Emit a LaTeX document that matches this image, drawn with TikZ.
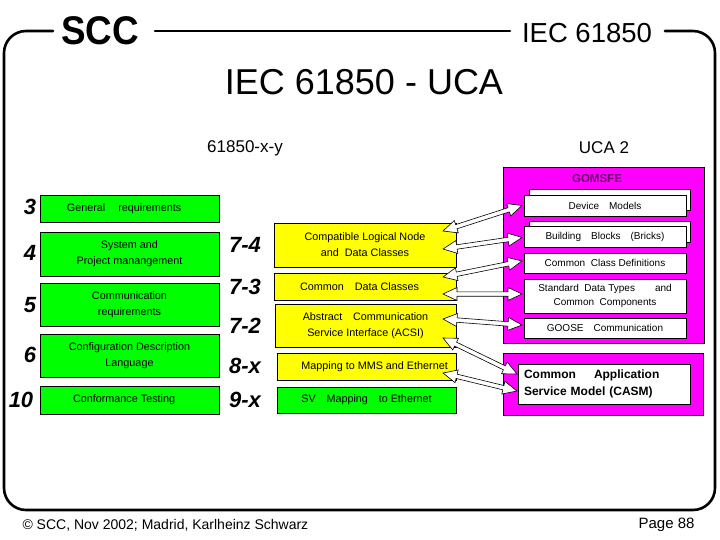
\documentclass[tikz,border=0pt]{standalone}
\usepackage{fontspec}
\setmainfont{Liberation Sans}
\usetikzlibrary{calc}
\definecolor{gomtext}{RGB}{102,0,102}
\definecolor{pgreen}{RGB}{0,255,0}
\definecolor{pyellow}{RGB}{255,255,0}
\definecolor{pmagenta}{RGB}{255,0,255}
\tikzset{
  frame/.style={line width=2.6pt, line cap=round},
  box/.style={draw=black, line width=0.6pt, inner sep=0pt, outer sep=0pt, align=center, font=\fontsize{10.8}{16}\selectfont},
  gbox/.style={box, fill=pgreen},
  ybox/.style={box, fill=pyellow},
  wbox/.style={box, fill=white, font=\fontsize{10}{14}\selectfont},
  mbox/.style={draw=black, line width=0.5pt, fill=pmagenta, inner sep=0pt, outer sep=0pt},
  num/.style={font=\fontsize{22}{22}\selectfont\bfseries\itshape},
  blockarr/.style={draw=black, fill=white, line width=0.6pt, line join=miter}
}
\newcommand\dblarrow[2]{%
  \draw[blockarr] let \p1=(#1), \p2=(#2), \n1={atan2(\y2-\y1,\x2-\x1)}, \n2={veclen(\x2-\x1,\y2-\y1)} in
   [shift={(\p1)}, rotate=\n1]
   (0pt,0pt) -- (14pt,6.5pt) -- (14pt,2.2pt) -- (\n2-14pt,2.2pt) -- (\n2-14pt,6.5pt) -- (\n2+0pt,0pt)
   -- (\n2-14pt,-6.5pt) -- (\n2-14pt,-2.2pt) -- (14pt,-2.2pt) -- (14pt,-6.5pt) -- cycle;}
\begin{document}
\begin{tikzpicture}[x=1pt,y=-1pt]
\useasboundingbox[fill=white] (0,0) rectangle (720,540);

% frame
\draw[frame, rounded corners=22pt] (53,31) -- (4,31) -- (4,510) -- (715,510) -- (715,31) -- (665,31);
\draw[frame] (155,31) -- (510,31);
\node[font=\fontsize{40}{40}\selectfont\bfseries, xscale=0.92] (scc) at (100,31) {SCC};
\node[font=\fontsize{27.5}{28}\selectfont] (iectop) at (587,33) {IEC 61850};
\node[font=\fontsize{36}{36}\selectfont] (title) at (364,82) {IEC 61850 - UCA};
\node[font=\fontsize{17}{17}\selectfont] (hx) at (245,148) {61850-x-y};
\node[font=\fontsize{17}{17}\selectfont] (huca) at (604,148) {UCA 2};

% left green boxes
\node[gbox, minimum width=179pt, minimum height=27pt] (n3) at (129.5,208.5) {General\hspace{1.2em}requirements\hspace{1em}};
\node[gbox, minimum width=179pt, minimum height=44pt] (n4) at (129.5,254) {System and\\Project manangement\hspace{1em}};
\node[gbox, minimum width=179pt, minimum height=43pt] (n5) at (129.5,304.5) {Communication\hspace{1em}\\requirements};
\node[gbox, minimum width=179pt, minimum height=43pt] (n6) at (129.5,355.5) {Configuration Description\hspace{1em}\\Language};
\node[gbox, minimum width=179pt, minimum height=28pt] (n10) at (129.5,400) {Conformance Testing\hspace{1em}};
\node[num] (l3) at (30,207) {3};
\node[num] (l4) at (30,253) {4};
\node[num] (l5) at (30,305) {5};
\node[num] (l6) at (30,355) {6};
\node[num] (l10) at (21,400) {10};

% middle boxes
\node[ybox, minimum width=182pt, minimum height=44pt] (m74) at (365,245) {Compatible Logical Node\hspace{1.5em}\\and\ \ Data Classes};
\node[ybox, minimum width=182pt, minimum height=27pt] (m73) at (365,286.5) {Common\hspace{1em}Data Classes\hspace{1em}};
\node[ybox, minimum width=181pt, minimum height=43pt] (m72) at (365.5,325.5) {Abstract\hspace{1em}Communication\hspace{1em}\\Service Interface (ACSI)\hspace{2em}};
\node[ybox, minimum width=179pt, minimum height=27pt] (m8) at (366.5,366.5) {\hspace{1.5em}Mapping\ to MMS and Ethernet};
\node[gbox, minimum width=179pt, minimum height=26pt] (m9) at (366.5,400) {SV\hspace{1em}Mapping\hspace{1em}to Ethernet};
\node[num] (l74) at (245,245) {7-4};
\node[num] (l73) at (245,287) {7-3};
\node[num] (l72) at (245,326) {7-2};
\node[num] (l8) at (245,366) {8-x};
\node[num] (l9) at (245,400) {9-x};

% right magenta boxes
\node[mbox, minimum width=201pt, minimum height=176pt] (gom) at (603.5,255) {};
\node[font=\fontsize{11.5}{12}\selectfont\bfseries, text=gomtext] (gomt) at (597,179) {GOMSFE};
\node[wbox, minimum width=161pt, minimum height=21pt] (dmb) at (609.5,199.5) {};
\node[wbox, minimum width=162pt, minimum height=21pt] (dm) at (605,205.5) {Device\quad Models};
\node[wbox, minimum width=161pt, minimum height=21pt] (bbb) at (609.5,231.5) {};
\node[wbox, minimum width=162pt, minimum height=21pt] (bb) at (605,236.5) {Building\quad Blocks\quad (Bricks)};
\node[wbox, minimum width=162pt, minimum height=20pt] (ccd) at (605,263) {Common\ \ Class Definitions};
\node[wbox, minimum width=162pt, minimum height=34pt] (sdt) at (605,296) {Standard\ \ Data Types\hspace{2em}and\\Common\ \ Components};
\node[wbox, minimum width=162pt, minimum height=20pt] (goose) at (605,328) {GOOSE\quad Communication};
\node[mbox, minimum width=200pt, minimum height=62pt] (casmbg) at (603,384) {};
\node[wbox, minimum width=172pt, minimum height=40pt, text width=160pt, align=left, font=\fontsize{12}{17}\selectfont\bfseries] (casm) at (604,384) {Common\hspace{1.5em}Application\\Service Model (CASM)};

% arrow end points
\coordinate (a1l) at ($(m74.east)+(-13,-14)$);
\coordinate (a2l) at ($(m74.east)+(-13,4)$);
\coordinate (a3l) at ($(m73.east)+(-13,-9.5)$);
\coordinate (a4l) at ($(m73.east)+(-13,7.5)$);
\coordinate (a5l) at ($(m72.east)+(-13,-6.5)$);
\coordinate (a6l) at ($(m72.east)+(-13,12.5)$);
\coordinate (a7l) at ($(m8.east)+(-13,6.5)$);
\coordinate (a1r) at ($(dm.west)+(-2,0)$);
\coordinate (a2r) at ($(bb.west)+(-2,1)$);
\coordinate (a3r) at ($(ccd.west)+(-2,-2)$);
\coordinate (a4r) at ($(sdt.west)+(-2,-2)$);
\coordinate (a5r) at ($(goose.west)+(-2,-3)$);
\coordinate (a6r) at ($(casm.west)+(-1,-10)$);
\coordinate (a7r) at ($(casm.west)+(-1,7)$);
\dblarrow{a1l}{a1r}
\dblarrow{a2l}{a2r}
\dblarrow{a3l}{a3r}
\dblarrow{a4l}{a4r}
\dblarrow{a5l}{a5r}
\dblarrow{a6l}{a6r}
\dblarrow{a7l}{a7r}

% footer
\node[font=\fontsize{14}{14}\selectfont, anchor=west] (copy) at (19,525) {© SCC, Nov 2002; Madrid, Karlheinz Schwarz};
\node[font=\fontsize{15}{15}\selectfont, anchor=east] (page) at (698,525) {Page 88};
\end{tikzpicture}
\end{document}
